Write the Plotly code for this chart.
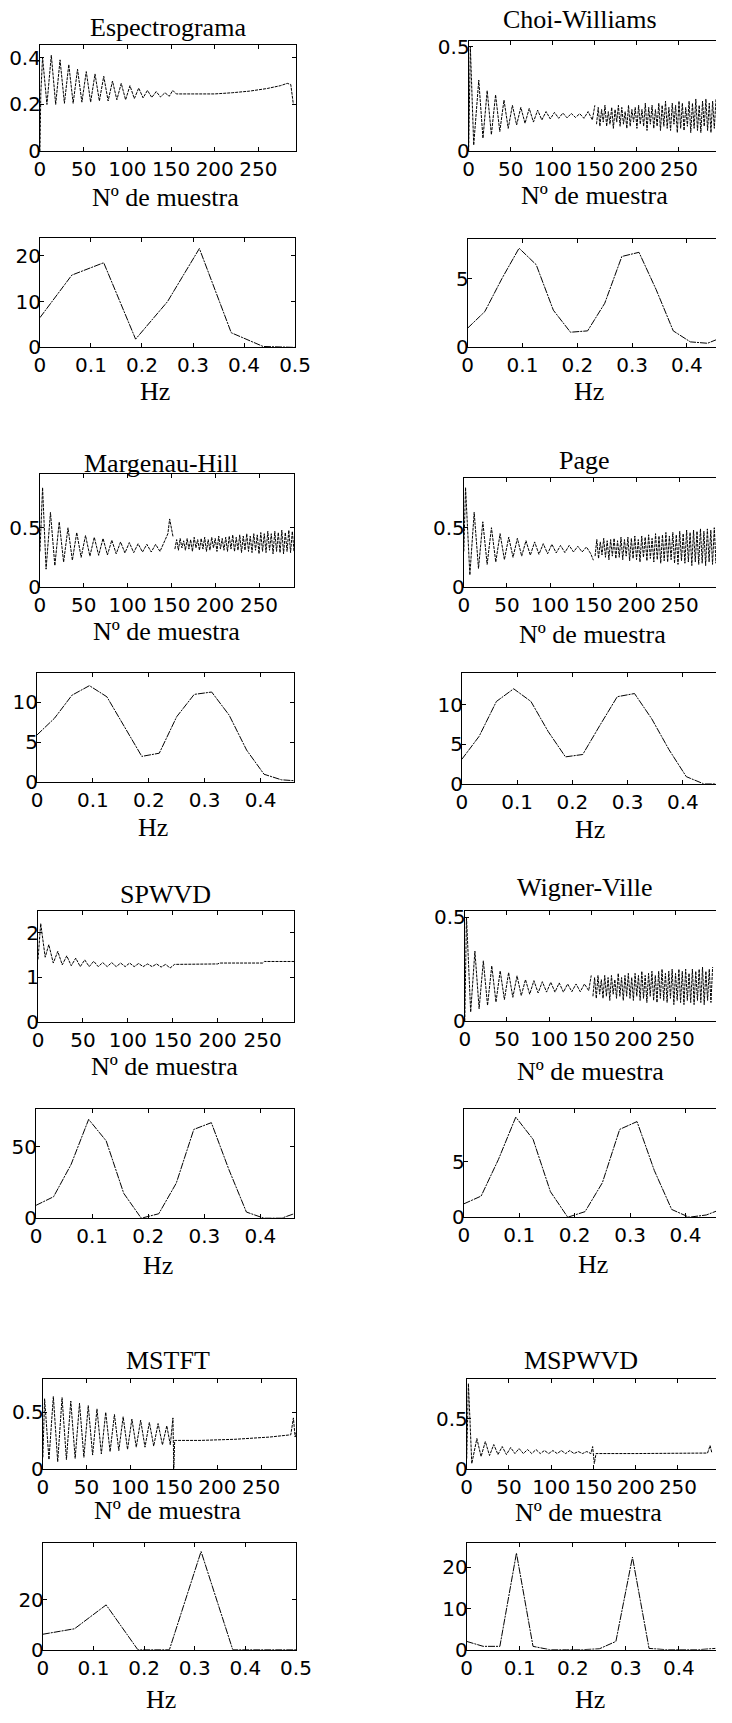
import plotly.graph_objects as go

W, H = 732, 1723

# ---------------- data ----------------
# frequency grids (Hz)
f16 = [0, 0.0625, 0.125, 0.1875, 0.25, 0.3125, 0.375, 0.4375, 0.5]
f32 = [0, 0.03125, 0.0625, 0.09375, 0.125, 0.15625, 0.1875, 0.21875, 0.25,
       0.28125, 0.3125, 0.34375, 0.375, 0.40625, 0.4375, 0.46875]

# Espectrograma: time (extrema) and spectrum
esp_t_x = [0, 1, 3, 8, 13, 18, 23, 28, 33, 38, 43, 48, 53, 58, 63, 68, 73, 78, 83, 88,
           93, 98, 103, 108, 113, 118, 123, 128, 133, 138, 143, 148, 152, 156, 175, 200,
           220, 240, 260, 275, 283, 287, 290]
esp_t_y = [0.0, 0.25, 0.40, 0.20, 0.41, 0.20, 0.39, 0.205, 0.37, 0.205, 0.35, 0.21, 0.34,
           0.21, 0.33, 0.215, 0.32, 0.215, 0.30, 0.22, 0.29, 0.22, 0.28, 0.225, 0.27, 0.228,
           0.26, 0.23, 0.255, 0.232, 0.25, 0.235, 0.26, 0.245, 0.245, 0.245, 0.25, 0.257,
           0.268, 0.28, 0.29, 0.285, 0.20]
esp_f_y = [6.5, 15.8, 18.5, 1.8, 10.0, 21.6, 3.2, 0.2, 0.0]

# Choi-Williams
cw_t_x = [0, 1, 2, 6, 12, 17, 22, 27, 32, 37, 42, 47, 52, 57, 62, 67, 72, 77, 82, 87, 92,
          97, 102, 107, 112, 117, 122, 127, 132, 137, 142, 147, 150]
cw_t_y = [0.0, 0.3, 0.5, 0.03, 0.34, 0.063, 0.29, 0.08, 0.27, 0.095, 0.245, 0.11, 0.22,
          0.126, 0.21, 0.134, 0.205, 0.14, 0.197, 0.15, 0.19, 0.155, 0.186, 0.158, 0.183,
          0.16, 0.181, 0.162, 0.18, 0.158, 0.19, 0.15, 0.22]
cw_dense_start = 152
cw_dense_y = [0.13, 0.21, 0.12, 0.20, 0.14, 0.22, 0.12, 0.19, 0.13, 0.21, 0.11, 0.20, 0.14, 0.22, 0.12, 0.21, 0.13, 0.19, 0.11, 0.22,
              0.12, 0.20, 0.14, 0.21, 0.11, 0.22, 0.13, 0.20, 0.12, 0.23, 0.10, 0.21, 0.13, 0.22, 0.11, 0.20, 0.12, 0.23, 0.10, 0.22,
              0.12, 0.24, 0.11, 0.21, 0.10, 0.23, 0.13, 0.22, 0.09, 0.24, 0.11, 0.23, 0.10, 0.21, 0.12, 0.24, 0.09, 0.23, 0.11, 0.25,
              0.10, 0.22, 0.09, 0.24, 0.12, 0.25, 0.10, 0.23, 0.09, 0.24, 0.11, 0.25]
cw_f_y = [1.4, 2.6, 5.0, 7.2, 6.0, 2.7, 1.1, 1.2, 3.2, 6.6, 6.9, 4.2, 1.2, 0.4, 0.3, 0.8]

# Margenau-Hill
mh_t_x = [0, 3, 7, 12, 17, 22, 27, 32, 37, 42, 47, 52, 57, 62, 67, 72, 77, 82, 87, 92, 97,
          102, 107, 112, 117, 122, 127, 132, 137, 142, 146, 148, 150, 152]
mh_t_y = [0.3, 0.84, 0.15, 0.63, 0.18, 0.55, 0.21, 0.5, 0.225, 0.46, 0.25, 0.435, 0.26, 0.42,
          0.267, 0.41, 0.27, 0.395, 0.28, 0.38, 0.287, 0.375, 0.29, 0.365, 0.295, 0.36, 0.295,
          0.36, 0.3, 0.38, 0.45, 0.575, 0.48, 0.42]
mh_dense_start = 154
mh_dense_y = [0.32, 0.40, 0.31, 0.41, 0.33, 0.39, 0.31, 0.41, 0.32, 0.40, 0.30, 0.42, 0.33, 0.40, 0.31, 0.41, 0.32, 0.42, 0.30, 0.40,
              0.31, 0.42, 0.33, 0.41, 0.30, 0.43, 0.32, 0.41, 0.31, 0.42, 0.30, 0.43, 0.32, 0.44, 0.30, 0.42, 0.31, 0.44, 0.29, 0.43,
              0.31, 0.45, 0.30, 0.43, 0.29, 0.45, 0.31, 0.44, 0.28, 0.46, 0.30, 0.45, 0.29, 0.47, 0.31, 0.45, 0.28, 0.47, 0.30, 0.46,
              0.29, 0.48, 0.28, 0.46, 0.30, 0.48, 0.29, 0.47, 0.30, 0.50]
mh_f_y = [5.9, 8.0, 10.9, 12.1, 10.7, 6.9, 3.2, 3.6, 8.2, 11.0, 11.3, 8.4, 4.0, 0.95, 0.25, 0.1]

# Page
pg_t_x = [0, 2, 7, 12, 17, 22, 27, 32, 37, 42, 47, 52, 57, 62, 67, 72, 77, 82, 87, 92, 97,
          102, 107, 112, 117, 122, 127, 132, 137, 142, 147, 150]
pg_t_y = [0.3, 0.84, 0.10, 0.63, 0.155, 0.55, 0.19, 0.50, 0.21, 0.45, 0.23, 0.42, 0.25, 0.41,
          0.26, 0.39, 0.267, 0.38, 0.275, 0.365, 0.28, 0.36, 0.287, 0.35, 0.29, 0.35, 0.295,
          0.343, 0.295, 0.337, 0.28, 0.225]
pg_dense_start = 152
pg_dense_y = [0.26, 0.40, 0.24, 0.38, 0.27, 0.41, 0.25, 0.39, 0.23, 0.40, 0.26, 0.41, 0.24, 0.39, 0.25, 0.42, 0.23, 0.40, 0.26, 0.42,
              0.22, 0.41, 0.24, 0.43, 0.23, 0.40, 0.21, 0.43, 0.25, 0.42, 0.22, 0.44, 0.24, 0.41, 0.21, 0.45, 0.23, 0.43, 0.20, 0.44,
              0.22, 0.46, 0.21, 0.43, 0.23, 0.46, 0.20, 0.44, 0.19, 0.47, 0.22, 0.45, 0.20, 0.48, 0.21, 0.46, 0.18, 0.48, 0.21, 0.47,
              0.19, 0.49, 0.20, 0.47, 0.18, 0.49, 0.21, 0.48, 0.19, 0.50, 0.20, 0.48]
pg_f_y = [3.1, 6.0, 10.4, 12.0, 10.4, 6.6, 3.4, 3.7, 7.4, 11.0, 11.4, 8.2, 4.3, 0.9, 0.0, 0.0]

# SPWVD
sp_t_x = [0, 3, 8, 12, 17, 22, 27, 32, 37, 42, 47, 52, 57, 62, 67, 72, 77, 82, 87, 92, 97,
          102, 107, 112, 117, 122, 127, 132, 137, 142, 147, 152, 200, 202, 250, 252, 285, 290]
sp_t_y = [1.4, 2.2, 1.45, 1.73, 1.32, 1.58, 1.28, 1.48, 1.26, 1.43, 1.24, 1.39, 1.24, 1.36,
          1.24, 1.33, 1.24, 1.33, 1.24, 1.32, 1.24, 1.32, 1.24, 1.31, 1.24, 1.30, 1.24, 1.30,
          1.23, 1.29, 1.21, 1.29, 1.30, 1.32, 1.32, 1.355, 1.355, 1.05]
sp_f_y = [9.0, 15.0, 37.6, 69.0, 54.0, 17.4, 0.0, 3.1, 24.5, 62.0, 66.7, 34.0, 4.3, 0.0, 0.0, 4.3]

# Wigner-Ville
wv_t_x = [0, 1, 2, 7, 12, 17, 22, 27, 32, 37, 42, 47, 52, 57, 62, 67, 72, 77, 82, 87, 92,
          97, 102, 107, 112, 117, 122, 127, 132, 137, 142, 147, 150]
wv_t_y = [0.0, 0.3, 0.5, 0.044, 0.337, 0.06, 0.29, 0.076, 0.266, 0.092, 0.242, 0.104, 0.234,
          0.115, 0.218, 0.123, 0.20, 0.13, 0.195, 0.136, 0.19, 0.14, 0.187, 0.14, 0.184, 0.14,
          0.179, 0.142, 0.179, 0.142, 0.179, 0.147, 0.22]
wv_dense_start = 152
wv_dense_y = [0.12, 0.21, 0.11, 0.22, 0.13, 0.20, 0.11, 0.22, 0.12, 0.21, 0.10, 0.22, 0.13, 0.20, 0.11, 0.23, 0.12, 0.21, 0.10, 0.22,
              0.12, 0.23, 0.11, 0.21, 0.10, 0.23, 0.12, 0.22, 0.10, 0.24, 0.11, 0.22, 0.09, 0.23, 0.12, 0.24, 0.10, 0.22, 0.09, 0.24,
              0.11, 0.25, 0.10, 0.23, 0.09, 0.24, 0.11, 0.25, 0.08, 0.23, 0.10, 0.25, 0.09, 0.24, 0.08, 0.25, 0.10, 0.23, 0.09, 0.25,
              0.08, 0.24, 0.10, 0.25, 0.09, 0.26, 0.08, 0.24, 0.10, 0.25, 0.09, 0.26]
wv_f_y = [1.2, 1.9, 5.2, 9.0, 7.0, 2.3, 0.0, 0.5, 3.1, 7.9, 8.6, 4.2, 0.7, 0.0, 0.2, 0.8]

# MSTFT
ms_t_x = [0, 2, 7, 12, 17, 22, 27, 32, 37, 42, 47, 52, 57, 62, 67, 72, 77, 82, 87, 92, 97,
          102, 107, 112, 117, 122, 127, 132, 137, 142, 146, 149, 150, 151, 180, 220, 260, 284,
          287, 289, 290]
ms_t_y = [0.1, 0.62, 0.08, 0.64, 0.06, 0.63, 0.08, 0.60, 0.09, 0.58, 0.10, 0.56, 0.12, 0.53,
          0.13, 0.50, 0.15, 0.48, 0.16, 0.46, 0.17, 0.44, 0.19, 0.43, 0.19, 0.41, 0.20, 0.40,
          0.21, 0.38, 0.21, 0.45, 0.0, 0.25, 0.25, 0.26, 0.28, 0.30, 0.45, 0.28, 0.32]
ms_f_y = [6.2, 8.4, 18.0, 0.0, 0.0, 39.5, 0.0, 0.0, 0.0]

# MSPWVD
mp_t_x = [0, 2, 6, 12, 17, 22, 27, 32, 37, 42, 47, 52, 57, 62, 67, 72, 77, 82, 87, 92, 97,
          102, 107, 112, 117, 122, 127, 132, 137, 142, 147, 149, 151, 153, 200, 250, 285, 288, 290]
mp_t_y = [0.1, 0.85, 0.05, 0.30, 0.12, 0.27, 0.13, 0.24, 0.14, 0.22, 0.14, 0.21, 0.15, 0.20,
          0.15, 0.19, 0.15, 0.19, 0.15, 0.18, 0.15, 0.18, 0.15, 0.18, 0.15, 0.18, 0.15, 0.17,
          0.15, 0.17, 0.15, 0.22, 0.05, 0.15, 0.15, 0.155, 0.155, 0.23, 0.16]
mp_f_y = [2.0, 0.8, 0.8, 23.5, 0.8, 0.0, 0.0, 0.0, 0.2, 2.0, 22.5, 0.3, 0.0, 0.0, 0.0, 0.3]

titles = ["Espectrograma", "Choi-Williams", "Margenau-Hill", "Page",
          "SPWVD", "Wigner-Ville", "MSTFT", "MSPWVD"]
xlabel_time = "Nº de muestra"
xlabel_freq = "Hz"

time_ticks = [0, 50, 100, 150, 200, 250]
freq_ticks5 = [0, 0.1, 0.2, 0.3, 0.4, 0.5]
freq_ticks4 = [0, 0.1, 0.2, 0.3, 0.4]

# ---------------- layout helpers ----------------
TICKFONT = dict(family="DejaVu Sans", size=20, color="black")
TXTFONT = dict(family="Liberation Serif", size=26, color="black")

fig = go.Figure()
layout = dict(width=W, height=H, margin=dict(l=0, r=0, t=0, b=0),
              paper_bgcolor="white", plot_bgcolor="white", showlegend=False,
              annotations=[])


def add_panel(i, box, xr, xt, yr, yt, right, series, dash):
    l, r, t, b = box
    xs = "" if i == 1 else str(i)
    xa = dict(domain=[l / W, r / W], range=xr, tickvals=xt, ticktext=[f"{v:g}" for v in xt],
              anchor="y" + xs, showline=True, linecolor="black", linewidth=1,
              mirror="ticks", ticks="inside", ticklen=4, tickcolor="black",
              showgrid=False, zeroline=False, tickfont=TICKFONT, tickangle=0,
              fixedrange=True)
    ya = dict(domain=[1 - b / H, 1 - t / H], range=yr, tickvals=yt,
              ticktext=[f"{v:g}" for v in yt],
              anchor="x" + xs, showline=True, linecolor="black", linewidth=1,
              mirror=False if right else "ticks", ticks="inside", ticklen=4,
              tickcolor="black", showgrid=False, zeroline=False, tickfont=TICKFONT,
              ticklabelstandoff=-6, fixedrange=True)
    layout["xaxis" + xs] = xa
    layout["yaxis" + xs] = ya
    for sx, sy in series:
        fig.add_trace(go.Scatter(x=sx, y=sy, mode="lines", xaxis="x" + xs, yaxis="y" + xs,
                                 line=dict(color="black", width=1, dash=dash),
                                 hoverinfo="skip"))


def dense_x(start, vals):
    return [start + 2 * k for k in range(len(vals))]


TDASH = "3px,1px"
FDASH = "7px,1px,2px,1px"

# Row 1
add_panel(1, (35, 299, 39, 147), [0, 293], time_ticks, [0, 0.455], [0, 0.2, 0.4], False,
          [(esp_t_x, esp_t_y)], TDASH)
add_panel(2, (477, 732, 35, 147), [0, 294], time_ticks, [0, 0.528], [0, 0.5], True,
          [(cw_t_x, cw_t_y), (dense_x(cw_dense_start, cw_dense_y), cw_dense_y)], TDASH)
add_panel(3, (35, 298, 234, 345), [0, 0.5], freq_ticks5, [0, 24], [0, 10, 20], False,
          [(f16, esp_f_y)], FDASH)
add_panel(4, (476, 732, 235, 345), [0, 0.453], freq_ticks4, [0, 7.9], [0, 5], True,
          [(f32, cw_f_y)], FDASH)
# Row 2
add_panel(5, (35, 297, 473, 587), [0, 290], time_ticks, [0, 0.955], [0, 0.5], False,
          [(mh_t_x, mh_t_y), (dense_x(mh_dense_start, mh_dense_y), mh_dense_y)], TDASH)
add_panel(6, (472, 732, 477, 587), [0, 292], time_ticks, [0, 0.92], [0, 0.5], True,
          [(pg_t_x, pg_t_y), (dense_x(pg_dense_start, pg_dense_y), pg_dense_y)], TDASH)
add_panel(7, (32, 297, 674, 784), [0, 0.46], freq_ticks4, [0, 13.7], [0, 5, 10], False,
          [(f32, mh_f_y)], FDASH)
add_panel(8, (470, 732, 674, 786), [0, 0.46], freq_ticks4, [0, 14], [0, 5, 10], True,
          [(f32, pg_f_y)], FDASH)
# Row 3
add_panel(9, (33, 297, 915, 1027), [0, 285], time_ticks, [0, 2.47], [0, 1, 2], False,
          [(sp_t_x, sp_t_y)], TDASH)
add_panel(10, (473, 732, 915, 1026), [0, 298], time_ticks, [0, 0.527], [0, 0.5], True,
          [(wv_t_x, wv_t_y), (dense_x(wv_dense_start, wv_dense_y), wv_dense_y)], TDASH)
add_panel(11, (31, 297, 1115, 1225), [0, 0.46], freq_ticks4, [0, 76], [0, 50], False,
          [(f32, sp_f_y)], FDASH)
add_panel(12, (472, 732, 1115, 1224), [0, 0.455], freq_ticks4, [0, 9.7], [0, 5], True,
          [(f32, wv_f_y)], FDASH)
# Row 4
add_panel(13, (38, 299, 1387, 1478), [0, 290], time_ticks, [0, 0.8], [0, 0.5], False,
          [(ms_t_x, ms_t_y)], TDASH)
add_panel(14, (475, 732, 1387, 1478), [0, 295], time_ticks, [0, 0.9], [0, 0.5], True,
          [(mp_t_x, mp_t_y)], TDASH)
add_panel(15, (38, 299, 1553, 1661), [0, 0.5], freq_ticks5, [0, 43], [0, 20], False,
          [(f16, ms_f_y)], FDASH)
add_panel(16, (475, 732, 1553, 1661), [0, 0.47], freq_ticks4, [0, 26], [0, 10, 20], True,
          [(f32, mp_f_y)], FDASH)


def text(s, cx, cy):
    layout["annotations"].append(dict(text=s, x=cx / W, y=1 - cy / H, xref="paper",
                                      yref="paper", xanchor="center", yanchor="middle",
                                      showarrow=False, font=TXTFONT))


title_pos = [(167, 22), (592, 14), (160, 462), (596, 459), (164, 898), (596, 891),
             (167, 1369), (593, 1369)]
for s, (cx, cy) in zip(titles, title_pos):
    text(s, cx, cy)

xl_time_pos = [(164, 194), (607, 192), (165, 632), (605, 635), (163, 1072), (603, 1077),
               (167, 1520), (601, 1522)]
for cx, cy in xl_time_pos:
    text(xlabel_time, cx, cy)

xl_freq_pos = [(154, 390), (601, 390), (152, 830), (602, 832), (157, 1273), (605, 1272),
               (160, 1711), (602, 1711)]
for cx, cy in xl_freq_pos:
    text(xlabel_freq, cx, cy)

fig.update_layout(**layout)
fig.write_html("out.html")
